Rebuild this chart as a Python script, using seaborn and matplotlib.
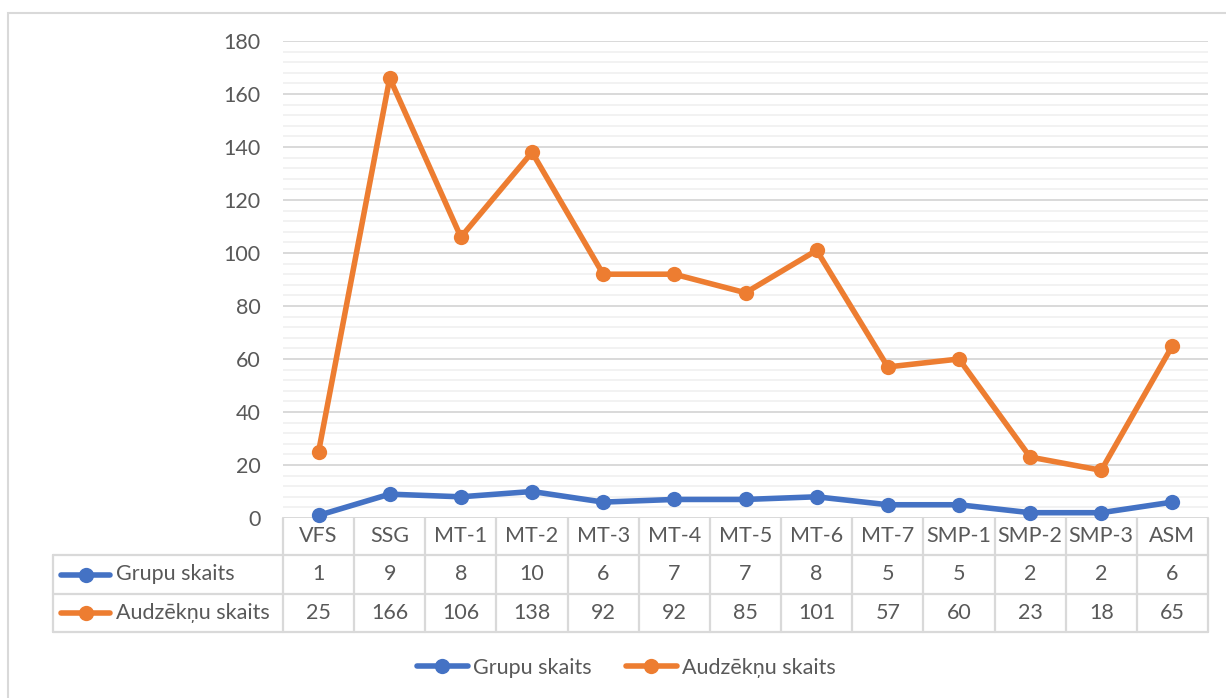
import matplotlib
matplotlib.use("Agg")
import matplotlib.pyplot as plt
import matplotlib.transforms as mtransforms
from matplotlib.lines import Line2D
from matplotlib.patches import Rectangle
import seaborn as sns
import pandas as pd

categories = ["VFS", "SSG", "MT-1", "MT-2", "MT-3", "MT-4", "MT-5", "MT-6", "MT-7",
              "SMP-1", "SMP-2", "SMP-3", "ASM"]
grupu_skaits = [1, 9, 8, 10, 6, 7, 7, 8, 5, 5, 2, 2, 6]
audzeknu_skaits = [25, 166, 106, 138, 92, 92, 85, 101, 57, 60, 23, 18, 65]
series_names = ["Grupu skaits", "Audzēkņu skaits"]
colors = ["#4472C4", "#ED7D31"]
y_ticks = [0, 20, 40, 60, 80, 100, 120, 140, 160, 180]

sns.set_theme(style="white")
plt.rcParams["font.family"] = ["Lato", "DejaVu Sans"]
TXT = "#595959"
GRID = "#D9D9D9"
FS = 15.5
LW = 4.0
MS = 11

W, H = 1226, 698
fig = plt.figure(figsize=(W / 100, H / 100), dpi=100)

def fy(ypx):
    return 1 - ypx / H

def fx(xpx):
    return xpx / W

ax_l, ax_r, ax_t, ax_b = 283, 1208, 41, 518
ax = fig.add_axes([fx(ax_l), fy(ax_b), (ax_r - ax_l) / W, (ax_b - ax_t) / H])

df = pd.DataFrame({
    "cat": categories * 2,
    "val": grupu_skaits + audzeknu_skaits,
    "series": [series_names[0]] * len(categories) + [series_names[1]] * len(categories),
})
sns.lineplot(data=df, x="cat", y="val", hue="series", palette=colors, marker="o",
             markersize=MS, markeredgewidth=0, linewidth=LW, sort=False, ax=ax,
             legend=False, zorder=5)
for ln in ax.lines:
    ln.set_solid_capstyle("round")
    ln.set_solid_joinstyle("round")
    ln.set_clip_on(False)

ax.set_xlim(-0.5, len(categories) - 0.5)
ax.set_ylim(0, 180)
ax.set_yticks(y_ticks)
ax.set_yticks(range(0, 181, 4), minor=True)
ax.grid(axis="y", which="minor", color="#F0F0F0", linewidth=1.2, zorder=0)
ax.grid(axis="y", which="major", color=GRID, linewidth=1.4, zorder=1)
ax.grid(axis="x", visible=False)
ax.set_xticks([])
ax.tick_params(axis="y", which="both", length=0, pad=16, labelsize=FS, labelcolor=TXT)
ax.set_xlabel("")
ax.set_ylabel("")
for s in ax.spines.values():
    s.set_visible(False)

# data table
tr = mtransforms.blended_transform_factory(ax.transData, fig.transFigure)
row_lines = [518, 555, 594, 632]
lab_l = 53
lc = dict(color=GRID, linewidth=1.6, clip_on=False)
for i in range(len(categories) + 1):
    fig.add_artist(Line2D([i - 0.5, i - 0.5], [fy(row_lines[0]), fy(row_lines[-1])],
                          transform=tr, **lc))
for yy in row_lines[1:]:
    fig.add_artist(Line2D([fx(lab_l), fx(ax_r)], [fy(yy), fy(yy)], **lc))
fig.add_artist(Line2D([fx(lab_l), fx(lab_l)], [fy(row_lines[1]), fy(row_lines[-1])], **lc))

cat_y = (row_lines[0] + row_lines[1]) / 2
row_ys = [(row_lines[1] + row_lines[2]) / 2, (row_lines[2] + row_lines[3]) / 2]
for i, c in enumerate(categories):
    fig.text(i, fy(cat_y), c, transform=tr, ha="center", va="center", fontsize=FS, color=TXT)
for vals, yy in zip([grupu_skaits, audzeknu_skaits], row_ys):
    for i, v in enumerate(vals):
        fig.text(i, fy(yy), str(v), transform=tr, ha="center", va="center", fontsize=FS, color=TXT)
for name, col, yy in zip(series_names, colors, row_ys):
    fig.add_artist(Line2D([fx(61), fx(110)], [fy(yy), fy(yy)], color=col, linewidth=LW,
                          solid_capstyle="round"))
    fig.add_artist(Line2D([fx(85.5)], [fy(yy)], color=col, marker="o", markersize=MS,
                          markeredgewidth=0))
    fig.text(fx(116), fy(yy), name, ha="left", va="center", fontsize=FS, color=TXT)

# legend
handles = [Line2D([0], [0], color=c, linewidth=LW, marker="o", markersize=MS,
                  markeredgewidth=0, solid_capstyle="round") for c in colors]
fig.legend(handles, series_names, loc="center", bbox_to_anchor=(fx(626), fy(668)),
           ncol=2, frameon=False, fontsize=FS, labelcolor=TXT, handlelength=2.4,
           handletextpad=0.2, columnspacing=1.6)

# outer frame
fig.add_artist(Rectangle((fx(8), fy(H + 20)), 1.2, fy(13) - fy(H + 20),
                         transform=fig.transFigure, fill=False, edgecolor=GRID,
                         linewidth=1.5, clip_on=False))

fig.savefig("out.png", dpi=100)
